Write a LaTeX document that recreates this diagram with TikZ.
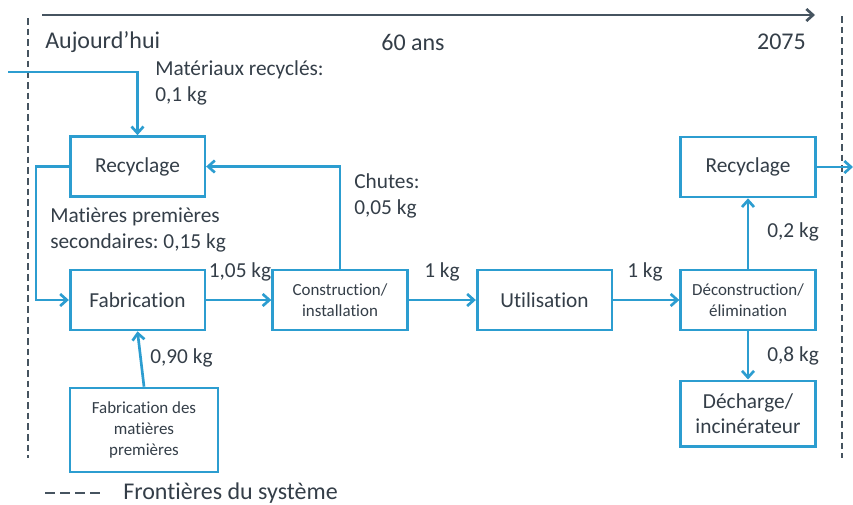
\documentclass[tikz,border=0pt]{standalone}
\usepackage{fontspec}
\setmainfont{Carlito}[Ligatures={CommonOff}]
\usetikzlibrary{arrows.meta,shadows}
\definecolor{boxblue}{RGB}{44,157,208}
\definecolor{txtgray}{RGB}{52,62,72}
\definecolor{linegray}{RGB}{70,84,96}
\frenchspacing

\tikzset{
  flowbox/.style={draw=boxblue,line width=2pt,fill=white,text=txtgray,align=center,
    minimum width=101pt,minimum height=45pt,inner sep=2pt,
    font=\fontsize{16}{19}\selectfont,
    drop shadow={opacity=0.25,shadow xshift=1pt,shadow yshift=-1pt}},
  smallbox/.style={flowbox,font=\fontsize{12.7}{15.5}\selectfont},
  flow/.style={draw=boxblue,line width=2pt,-{Straight Barb[length=5pt,width=9pt]}},
  lbl/.style={text=txtgray,align=left,inner sep=0pt,font=\fontsize{16}{20}\selectfont},
  biglbl/.style={text=txtgray,inner sep=0pt,font=\fontsize{18}{22}\selectfont},
  border/.style={draw=linegray,line width=2pt,dash pattern=on 5pt off 3pt},
  legline/.style={draw=linegray,line width=2.2pt,dash pattern=on 7.5pt off 3.75pt},
  timeline/.style={draw=linegray,line width=2pt,-{Straight Barb[length=5pt,width=9pt]}}
}

\begin{document}
\begin{tikzpicture}[x=0.75pt,y=-0.75pt]
  \useasboundingbox (0,0) rectangle (853,504);

  % axe du temps
  \coordinate (tl0) at (42,15);
  \coordinate (tl1) at (815,15);
  \draw[timeline] (tl0) -- (tl1);
  \node[biglbl,anchor=west] (today) at (45,42) {Aujourd’hui};
  \node[biglbl] (years) at (413,42) {60 ans};
  \node[biglbl,anchor=east] (end) at (806,42) {2075};

  % frontières du système
  \coordinate (bl0) at (28,18);
  \coordinate (bl1) at (28,458);
  \coordinate (br0) at (842,16);
  \coordinate (br1) at (842,458);
  \draw[border] (bl0) -- (bl1);
  \draw[border] (br0) -- (br1);

  % boîtes
  \node[flowbox] (recL) at (137.5,166.5) {Recyclage};
  \node[flowbox] (fab) at (137.5,300) {Fabrication};
  \node[smallbox] (cons) at (340,300) {Construction/\\installation};
  \node[flowbox] (util) at (544.5,300) {Utilisation};
  \node[smallbox] (decons) at (748,300) {Déconstruction/\\élimination};
  \node[flowbox] (recR) at (748,167) {Recyclage};
  \node[flowbox,minimum height=49pt] (dech) at (748,413.5) {Décharge/\\incinérateur};
  \node[smallbox,minimum width=111pt,minimum height=63pt] (matp) at (144,430)
    {Fabrication des\\matières\\premières};

  % flux
  \coordinate (inL) at (8,72);
  \coordinate (outR) at (853,167);
  \draw[flow] (inL) -| (recL.north);
  \draw[flow] (recL.west) -- ++(-33,0) |- (fab.west);
  \draw[flow] (fab) -- (cons);
  \draw[flow] (cons.north) |- (recL.east);
  \draw[flow] (cons) -- (util);
  \draw[flow] (util) -- (decons);
  \draw[flow] (decons) -- (recR);
  \draw[flow] (decons) -- (dech);
  \draw[flow] (matp.north) -- (fab.south);
  \draw[flow] (recR.east) -- (outR);

  % quantités
  \node[lbl,anchor=west] (lrec) at (155,83) {Matériaux recyclés:\\0,1 kg};
  \node[lbl,anchor=west] (lchut) at (354,196) {Chutes:\\0,05 kg};
  \node[lbl,anchor=west] (lsec) at (50,230) {Matières premières\\secondaires: 0,15 kg};
  \node[lbl] (l105) at (240,272) {1,05 kg};
  \node[lbl] (l1a) at (442,272) {1 kg};
  \node[lbl] (l1b) at (645,272) {1 kg};
  \node[lbl,anchor=west] (l02) at (767,232) {0,2 kg};
  \node[lbl,anchor=west] (l08) at (767,356) {0,8 kg};
  \node[lbl,anchor=west] (l090) at (150,358) {0,90 kg};

  % légende
  \coordinate (lg0) at (45,493);
  \coordinate (lg1) at (105,493);
  \draw[legline] (lg0) -- (lg1);
  \node[biglbl,anchor=west] (leg) at (123,493) {Frontières du système};
\end{tikzpicture}
\end{document}
